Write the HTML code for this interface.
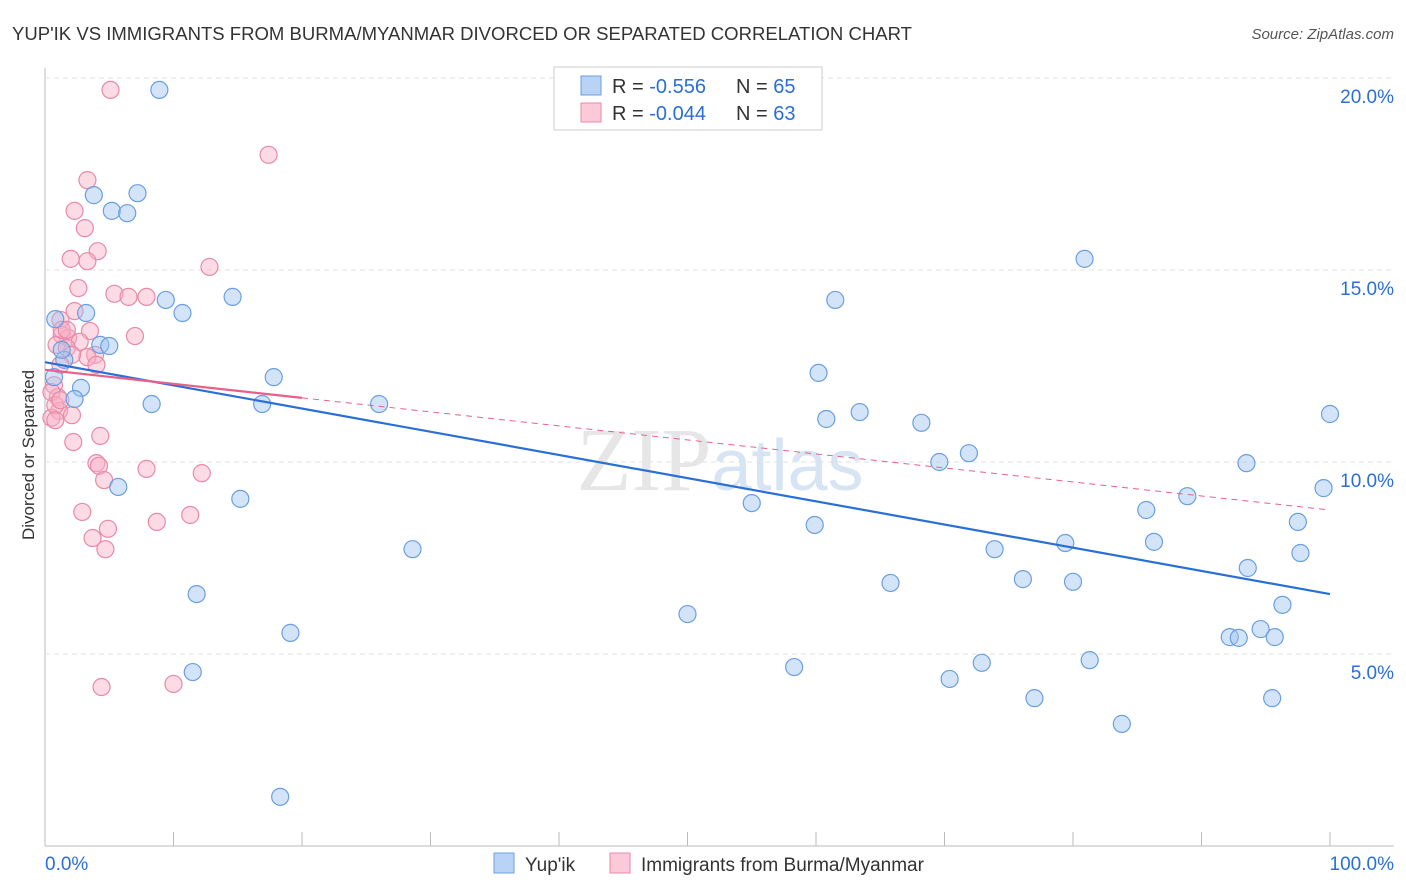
<!DOCTYPE html>
<html><head><meta charset="utf-8"><style>
body{margin:0;background:#fff;font-family:"Liberation Sans",sans-serif;}
svg{display:block}
</style></head><body>
<svg id="chart" width="1406" height="892">
<text x="12" y="40" font-size="18" fill="#333" textLength="900" lengthAdjust="spacingAndGlyphs">YUP'IK VS IMMIGRANTS FROM BURMA/MYANMAR DIVORCED OR SEPARATED CORRELATION CHART</text>
<text x="1394" y="39" font-size="15" fill="#555" font-style="italic" text-anchor="end">Source: ZipAtlas.com</text>
<g id="grid"></g>
<text x="720" y="490" font-size="90" fill="#e6e6e6" text-anchor="middle" font-family="Liberation Serif">ZIP<tspan fill="#d6e4f4" font-family="Liberation Sans" font-size="72">atlas</tspan></text>
<text transform="translate(34,455) rotate(-90)" font-size="17" fill="#333" text-anchor="middle">Divorced or Separated</text>
<g id="points"></g>
<g id="trends"></g>
<g>
<rect x="554" y="67" width="268" height="63" fill="#fff" stroke="#ccc"/>
<rect x="581" y="76" width="20" height="19" fill="#b8d3f5" stroke="#6a9fe0"/>
<rect x="581" y="103" width="20" height="19" fill="#fbc9d7" stroke="#e88aa8"/>
<text x="612" y="93" font-size="20" fill="#333">R = <tspan fill="#2a6fd6">-0.556</tspan><tspan x="736">N = </tspan><tspan fill="#2a6fd6">65</tspan></text>
<text x="612" y="120" font-size="20" fill="#333">R = <tspan fill="#2a6fd6">-0.044</tspan><tspan x="736">N = </tspan><tspan fill="#2a6fd6">63</tspan></text>
</g>
<g>
<rect x="494" y="853" width="20" height="20" fill="#b8d3f5" stroke="#6a9fe0"/>
<text x="525" y="871" font-size="19" fill="#333">Yup'ik</text>
<rect x="610" y="853" width="20" height="20" fill="#fbc9d7" stroke="#e88aa8"/>
<text x="641" y="871" font-size="19" fill="#333">Immigrants from Burma/Myanmar</text>
</g>
<text x="45" y="870" font-size="19" fill="#2a6fd6">0.0%</text>
<text x="1394" y="870" font-size="19" fill="#2a6fd6" text-anchor="end">100.0%</text>
</svg>
<script>
const blueX=[8.9,3.8,5.2,6.4,7.2,9.4,10.7,14.6,0.8,3.2,4.3,5.0,1.5,2.8,2.3,8.3,16.9,17.8,5.7,15.2,26.0,28.6,11.8,19.1,11.5,18.3,50.0,55.0,58.3,59.9,60.2,60.8,61.5,63.4,65.8,68.2,69.6,70.4,71.9,72.9,73.9,76.1,77.0,79.4,80.0,80.9,81.3,83.8,85.7,86.3,88.9,92.2,92.9,93.5,93.6,94.6,95.5,95.7,96.3,97.5,97.7,99.5,100,0.7,1.3];
const blueY=[19.69,16.95,16.54,16.48,17.0,14.22,13.88,14.3,13.72,13.88,13.05,13.02,12.66,11.93,11.64,11.51,11.51,12.21,9.35,9.04,11.51,7.73,6.56,5.55,4.53,1.28,6.04,8.93,4.66,8.36,12.32,11.12,14.22,11.30,6.85,11.02,10.0,4.35,10.23,4.77,7.73,6.95,3.85,7.89,6.88,15.29,4.84,3.18,8.75,7.92,9.11,5.44,5.42,9.97,7.24,5.65,3.85,5.44,6.28,8.44,7.63,9.32,11.25,12.21,12.92];
const pinkX=[5.1,17.4,3.3,2.3,3.1,4.1,2.0,3.3,12.8,2.6,5.4,6.5,7.9,2.3,1.2,1.3,3.5,7.0,1.8,2.7,0.9,1.7,3.9,3.3,4.0,2.1,1.2,0.7,1.0,0.5,1.1,0.5,0.8,2.1,1.2,2.2,4.3,4.0,4.2,7.9,12.2,4.6,2.9,4.9,8.7,11.3,3.7,4.7,4.4,10.0,1.3,1.7,0.8];
const pinkY=[19.69,18.0,17.34,16.54,16.09,15.49,15.29,15.23,15.08,14.53,14.38,14.3,14.3,13.93,13.7,13.31,13.41,13.28,13.23,13.13,13.05,12.97,12.79,12.73,12.53,12.79,12.53,12.0,11.69,11.82,11.33,11.15,11.48,11.22,11.61,10.52,10.68,9.97,9.90,9.82,9.71,9.53,8.70,8.26,8.44,8.62,8.02,7.73,4.14,4.22,13.44,13.44,11.09];
const yTicks=[5,10,15,20];
const yTickLabels=["5.0%","10.0%","15.0%","20.0%"];
const xTicks=[0,10,20,30,40,50,60,70,80,90,100];
const blueTrend=[[0,12.6],[100,6.56]];
const pinkTrend=[[0,12.4],[20,11.67],[100,8.75]];
const NS="http://www.w3.org/2000/svg";
const sx=v=>45+v*12.85, sy=v=>846-v*38.4;
function mk(t,a,p){const e=document.createElementNS(NS,t);for(const k in a)e.setAttribute(k,a[k]);p.appendChild(e);return e;}
const grid=document.getElementById('grid');
const ax=mk('line',{x1:45,y1:68,x2:45,y2:846,stroke:'#bbb'},grid);


const bx=mk('line',{x1:45,y1:846,x2:1394,y2:846,stroke:'#bbb'},grid);


yTicks.forEach((v,i)=>{
 const g=mk('line',{x1:45,y1:sy(v),x2:1394,y2:sy(v),stroke:'#e2e2e2','stroke-dasharray':'5,4'},grid);
 
 
 const t=mk('text',{x:1394,y:sy(v)+25,'font-size':19,fill:'#2a6fd6','text-anchor':'end'},grid);
 t.textContent=yTickLabels[i];
 
 
});
xTicks.slice(1).forEach(v=>{
 const l=mk('line',{x1:sx(v),y1:832,x2:sx(v),y2:846,stroke:'#bbb'},grid);
 
 
});
const pts=document.getElementById('points');
pinkX.forEach((x,i)=>{
 const c=mk('circle',{cx:sx(x),cy:sy(pinkY[i]),r:8.5,fill:'rgba(248,175,198,0.45)',stroke:'#e88aa8','stroke-width':1.2},pts);
 
 
});
blueX.forEach((x,i)=>{
 const c=mk('circle',{cx:sx(x),cy:sy(blueY[i]),r:8.5,fill:'rgba(160,196,240,0.45)',stroke:'#6a9fe0','stroke-width':1.2},pts);
 
 
});
const tr=document.getElementById('trends');
const b=mk('line',{x1:sx(blueTrend[0][0]),y1:sy(blueTrend[0][1]),x2:sx(blueTrend[1][0]),y2:sy(blueTrend[1][1]),stroke:'#2a6fd6','stroke-width':2.2},tr);


const p1=mk('line',{x1:sx(pinkTrend[0][0]),y1:sy(pinkTrend[0][1]),x2:sx(pinkTrend[1][0]),y2:sy(pinkTrend[1][1]),stroke:'#e8608a','stroke-width':2.2},tr);


const p2=mk('line',{x1:sx(pinkTrend[1][0]),y1:sy(pinkTrend[1][1]),x2:sx(pinkTrend[2][0]),y2:sy(pinkTrend[2][1]),stroke:'#e8608a','stroke-width':1,'stroke-dasharray':'6,5'},tr);


</script>
</body></html>
